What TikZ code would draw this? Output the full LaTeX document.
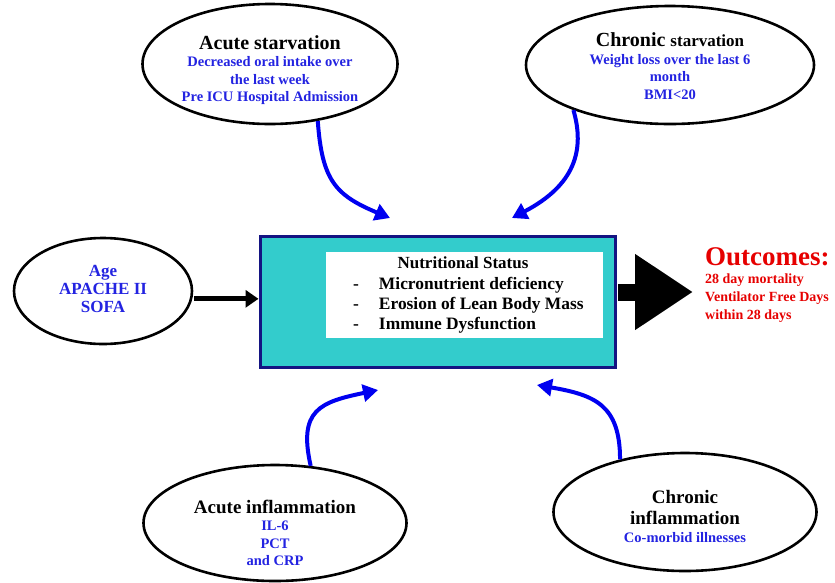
\documentclass[tikz,border=0pt]{standalone}
\usepackage{fontspec}
\setmainfont{Liberation Serif}
\usetikzlibrary{shapes.geometric,arrows.meta,calc}
\definecolor{navy}{RGB}{20,20,130}
\definecolor{turq}{RGB}{51,204,204}
\definecolor{txtblue}{RGB}{35,35,225}
\definecolor{outred}{RGB}{230,0,0}
\definecolor{arrblue}{RGB}{0,0,240}
\tikzset{
  oval/.style={draw=black,line width=2.6pt,ellipse,inner sep=0pt},
  ovaltext/.style={align=center,inner sep=0pt,text=txtblue,font=\bfseries\fontsize{14.5}{17.5}\selectfont},
  feed/.style={draw=arrblue,line width=4pt,-{Triangle[length=15pt,width=17pt]}},
}
\newcommand{\titlefont}{\color{black}\fontsize{20}{22}\selectfont}

\begin{document}
\begin{tikzpicture}[x=1pt,y=-1pt]
\useasboundingbox (0,0) rectangle (835,582);

% the box in the middle
\node[draw=navy,line width=3pt,fill=turq,minimum width=355,minimum height=131] (box) at (437.5,301.5) {};
\node[fill=white,minimum width=277,minimum height=86,inner sep=0pt] (inner) at (464.5,295) {};
\node[font=\bfseries\fontsize{17}{20}\selectfont] (nstat) at (463,263) {Nutritional Status};
\node[anchor=west,inner sep=0pt,font=\bfseries\fontsize{17.4}{20}\selectfont] (nlist) at (353,305)
  {\begin{tabular}{@{}l@{\hspace{20pt}}l@{}}
   - & Micronutrient deficiency\\
   - & Erosion of Lean Body Mass\\
   - & Immune Dysfunction
   \end{tabular}};

% the five ovals
\node[oval,minimum width=255,minimum height=120] (astarv) at (270,64) {};
\node[ovaltext] (astarvtxt) at (270,70)
  {{\titlefont Acute starvation}\\Decreased oral intake over\\the last week\\Pre ICU Hospital Admission};

\node[oval,minimum width=288,minimum height=118] (cstarv) at (670,65) {};
\node[ovaltext] (cstarvtxt) at (670,66)
  {{\titlefont Chronic {\fontsize{17}{20}\selectfont starvation}}\\Weight loss over the last 6\\month\\BMI<20};

\node[oval,minimum width=178,minimum height=106] (age) at (103,291) {};
\node[ovaltext,font=\bfseries\fontsize{17}{18}\selectfont] (agetxt) at (103,289) {Age\\APACHE II\\SOFA};

\node[oval,minimum width=263,minimum height=116] (ainfl) at (275,523) {};
\node[ovaltext] (ainfltxt) at (275,533)
  {{\titlefont\fontsize{19}{21}\selectfont Acute inflammation}\\IL-6\\PCT\\and CRP};

\node[oval,minimum width=263,minimum height=118] (cinfl) at (685,512) {};
\node[ovaltext] (cinfltxt) at (685,516)
  {{\titlefont\fontsize{19}{21}\selectfont Chronic}\\[4pt]{\titlefont\fontsize{19}{21}\selectfont inflammation}\\Co-morbid illnesses};

% outcomes
\node[anchor=west,align=left,inner sep=0pt,text=outred,font=\bfseries\fontsize{14}{18}\selectfont] (outc) at (705,285)
  {{\fontsize{27}{28}\selectfont Outcomes:}\\28 day mortality\\Ventilator Free Days\\within 28 days};

% arrow tips near the box
\coordinate (t1) at (390,218);
\coordinate (t2) at (512,218);
\coordinate (t3) at (378,390);
\coordinate (t4) at (537,385);
\coordinate (otip) at (693,292);

\draw[feed] (astarv.-50) .. controls (322,180) and (335,195) .. (t1);
\draw[feed] (cstarv.-155) .. controls (585,150) and (575,185) .. (t2);
\draw[feed] (ainfl.58) .. controls (298,410) and (320,402) .. (t3);
\draw[feed] (cinfl.141) .. controls (620,405) and (595,395) .. (t4);

\draw[line width=5pt,-{Triangle[length=13pt,width=17pt]}] ([xshift=2pt]age.-5) -- (age.-5 -| box.west);
\draw[line width=17pt,-{Triangle[length=58pt,width=72pt]}] ([xshift=1.5pt]otip -| box.east) -- (otip);
\end{tikzpicture}
\end{document}
